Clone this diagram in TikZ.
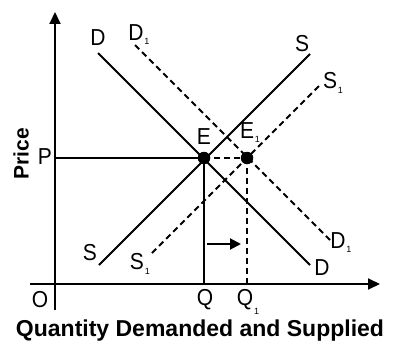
\documentclass[tikz,border=0pt]{standalone}
\usepackage{fontspec}
\setmainfont{Liberation Sans}
\usetikzlibrary{arrows.meta}
\begin{document}
\begin{tikzpicture}[x=1pt,y=-1pt,
  curve/.style={line width=2pt},
  dcurve/.style={line width=2pt,dash pattern=on 6pt off 4pt},
  lbl/.style={font=\fontsize{21}{21}\selectfont,inner sep=0pt,yscale=1.1},
  sub/.style={label={[font=\fontsize{9}{9}\selectfont,inner sep=0pt,anchor=south west,xshift=0.5pt,yshift=-4pt]south east:1}},
  dot/.style={circle,fill=black,inner sep=0pt,minimum size=12.5pt}]
\useasboundingbox (0,0) rectangle (404,345);
% axes
\coordinate (ytop) at (55,12);
\coordinate (ybot) at (55,310);
\coordinate (xl) at (30,284);
\coordinate (xr) at (380,284);
\draw[line width=2pt,-{Triangle[length=12pt,width=11pt]}] (ybot) -- (ytop);
\draw[line width=2pt,-{Triangle[length=12pt,width=11pt]}] (xl) -- (xr);
% points
\node[dot] (E) at (204,158) {};
\node[dot] (E1) at (247,158) {};
\coordinate (Pa) at (55,158);
\coordinate (Qa) at (204,284);
\coordinate (Q1a) at (247,284);
% curves
\coordinate (Dtop) at (98,53); \coordinate (Dbot) at (310,265);
\coordinate (Stop) at (310,54); \coordinate (Sbot) at (99,265);
\coordinate (D1top) at (135,45); \coordinate (D1bot) at (330,240);
\coordinate (S1top) at (320,85); \coordinate (S1bot) at (152,253);
\draw[curve] (Dtop) -- (Dbot);
\draw[curve] (Sbot) -- (Stop);
\draw[dcurve] (D1top) -- (D1bot);
\draw[dcurve] (S1bot) -- (S1top);
% guide lines
\draw[curve] (Pa) -- (E.center);
\draw[curve] (E.center) -- (Qa);
\draw[dcurve] (E.center) -- (E1.center);
\draw[dcurve] (E1.center) -- (Q1a);
% shift arrow
\coordinate (as) at (207,244);
\coordinate (ae) at (241,244);
\draw[line width=2pt,-{Triangle[length=11pt,width=11pt]}] (as) -- (ae);
% labels
\node[lbl] (lD) at (98,38) {D};
\node[lbl,sub] (lD1) at (136,33) {D};
\node[lbl] (lS) at (302,44) {S};
\node[lbl,sub] (lS1) at (330,81) {S};
\node[lbl] (lE) at (204,137) {E};
\node[lbl,sub] (lE1) at (247,131) {E};
\node[lbl] (lP) at (45,157) {P};
\node[lbl] (lO) at (40,300) {O};
\node[lbl] (lQ) at (205,300) {Q};
\node[lbl,sub] (lQ1) at (245,300) {Q};
\node[lbl] (lSb) at (90,253) {S};
\node[lbl,sub] (lS1b) at (137,262) {S};
\node[lbl] (lDb) at (322,268) {D};
\node[lbl,sub] (lD1b) at (338,241) {D};
\node[inner sep=0pt,font=\fontsize{21}{21}\selectfont\bfseries,rotate=90] (price) at (21,154) {Price};
\node[inner sep=0pt,font=\fontsize{23}{23}\selectfont\bfseries] (title) at (200,331) {Quantity Demanded and Supplied};
\end{tikzpicture}
\end{document}
